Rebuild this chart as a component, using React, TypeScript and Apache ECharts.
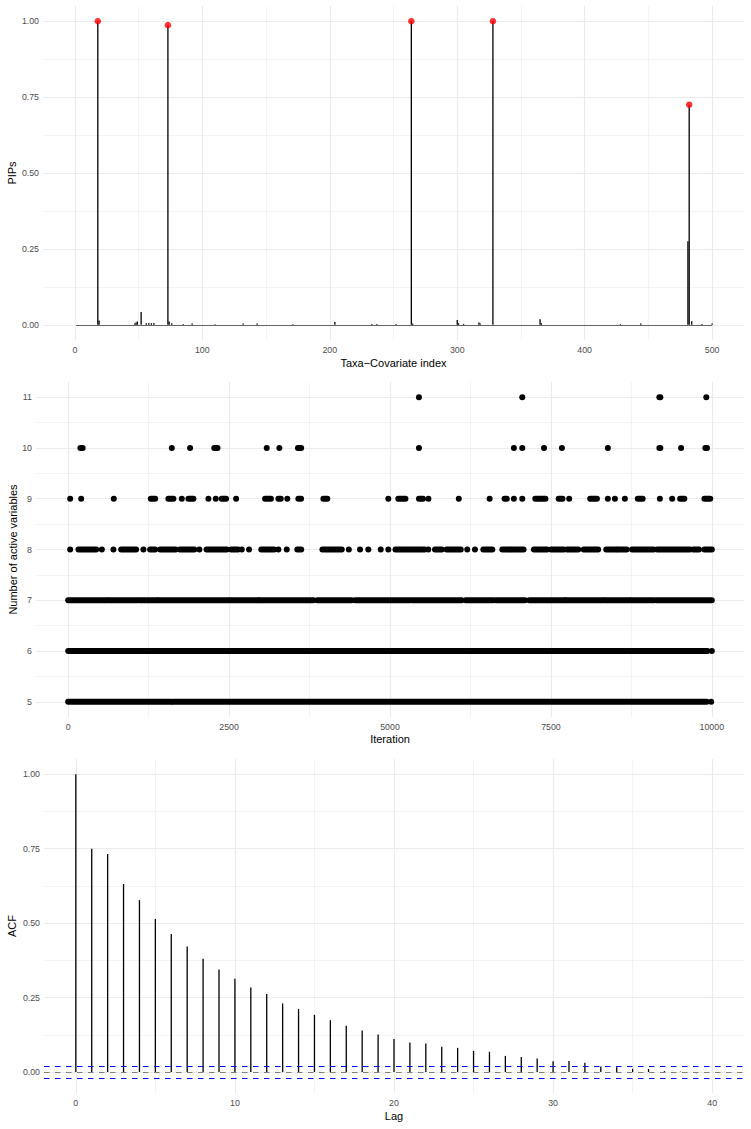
import React, { useEffect, useRef } from "react";
import * as echarts from "echarts";

// ---- Posterior inclusion probabilities: [taxa-covariate index, PIP] ----
const PIP_COUNT = 500;
const PIP_VALUES: [number, number][] = [
  [18, 1.0], [19, 0.014], [47, 0.004], [48, 0.008], [49, 0.011], [52, 0.042],
  [56, 0.005], [58, 0.006], [60, 0.005], [62, 0.006], [73, 0.987], [74, 0.011],
  [76, 0.005], [85, 0.003], [92, 0.004], [110, 0.002], [132, 0.004], [143, 0.004],
  [171, 0.002], [204, 0.009], [233, 0.003], [237, 0.003], [252, 0.003], [264, 1.0],
  [265, 0.004], [300, 0.016], [301, 0.005], [305, 0.003], [317, 0.008], [318, 0.004],
  [328, 1.0], [365, 0.018], [366, 0.005], [428, 0.002], [444, 0.004], [481, 0.275],
  [482, 0.725], [484, 0.012], [492, 0.003], [500, 0.004],
];
const PIP_THRESHOLD = 0.5;
const PIP_X_TICKS = [0, 100, 200, 300, 400, 500];
const PIP_X_MINOR = [50, 150, 250, 350, 450];
const PROB_TICKS = [0, 0.25, 0.5, 0.75, 1];
const PROB_MINOR = [0.125, 0.375, 0.625, 0.875];

// ---- Model size trace: runs of consecutive iterations [from, to] per size ----
const SIZE_5: number[][] = [[0, 1600], [1625, 9920], [9990, 9990]];
const SIZE_6: number[][] = [[0, 1600], [1625, 9930], [10000, 10000]];
const SIZE_7: number[][] = [
  [0, 600], [626, 1076], [1107, 1377], [1402, 2489], [2516, 2955], [2971, 3810],
  [3871, 4405], [4457, 5311], [5346, 6113], [6175, 6604], [6646, 7096], [7163, 7717],
  [7733, 8312], [8338, 8716], [8742, 9099], [9141, 10000],
];
const SIZE_8: number[][] = [
  [31, 31], [160, 435], [523, 523], [703, 703], [823, 1056], [1169, 1169], [1273, 1351],
  [1429, 1670], [1735, 1960], [2039, 2039], [2150, 2464], [2530, 2640], [2697, 2697],
  [2810, 2810], [3000, 3200], [3266, 3266], [3396, 3396], [3560, 3620], [3950, 4250],
  [4360, 4360], [4534, 4534], [4663, 4663], [4856, 4856], [4974, 4974], [5085, 5330],
  [5360, 5540], [5595, 5595], [5699, 5803], [5880, 6100], [6200, 6200], [6320, 6320],
  [6450, 6590], [6745, 6863], [6890, 7075], [7236, 7440], [7500, 7700], [7750, 7925],
  [8010, 8234], [8360, 8520], [8545, 8675], [8760, 9095], [9150, 9658], [9710, 9800],
  [9885, 10000],
];
const SIZE_9: number[][] = [
  [31, 31], [202, 202], [709, 709], [1284, 1351], [1557, 1635], [1765, 1765], [1868, 1946],
  [2179, 2179], [2293, 2293], [2386, 2453], [2609, 2609], [3059, 3150], [3266, 3303],
  [3405, 3405], [3576, 3618], [3965, 4026], [4974, 4974], [5129, 5240], [5450, 5512],
  [5597, 5597], [6069, 6069], [6548, 6548], [6780, 6815], [6925, 6925], [7055, 7055],
  [7257, 7415], [7620, 7680], [7784, 7784], [8110, 8215], [8385, 8385], [8494, 8494],
  [8649, 8649], [8850, 8925], [9193, 9193], [9384, 9384], [9508, 9573], [9885, 9975],
];
const SIZE_10: number[][] = [
  [190, 225], [1610, 1610], [1894, 1894], [2270, 2320], [3085, 3085], [3281, 3281],
  [3570, 3620], [5450, 5450], [6925, 6925], [7055, 7055], [7393, 7393], [7671, 7671],
  [8385, 8385], [9185, 9200], [9523, 9523], [9900, 9925],
];
const SIZE_11: number[][] = [[5450, 5450], [7055, 7055], [9185, 9200], [9914, 9914]];
const SIZE_RUNS: [number, number[][]][] = [
  [5, SIZE_5], [6, SIZE_6], [7, SIZE_7], [8, SIZE_8], [9, SIZE_9], [10, SIZE_10], [11, SIZE_11],
];
const ITER_TICKS = [0, 2500, 5000, 7500, 10000];
const ITER_MINOR = [1250, 3750, 6250, 8750];
const SIZE_TICKS = [5, 6, 7, 8, 9, 10, 11];
const SIZE_MINOR = [5.5, 6.5, 7.5, 8.5, 9.5, 10.5];

// ---- Autocorrelation of the model size trace, lags 0..40 ----
const ACF_VALUES = [
  1.0, 0.75, 0.732, 0.631, 0.577, 0.514, 0.463, 0.421, 0.38, 0.344, 0.313, 0.284, 0.262,
  0.23, 0.212, 0.192, 0.174, 0.155, 0.139, 0.126, 0.111, 0.099, 0.096, 0.085, 0.081,
  0.071, 0.068, 0.054, 0.05, 0.045, 0.036, 0.037, 0.031, 0.018, 0.016, 0.011, 0.01,
  0.003, 0.001, -0.004, 0.0,
];
const ACF_BOUND = 0.0196;
const LAG_TICKS = [0, 10, 20, 30, 40];
const LAG_MINOR = [5, 15, 25, 35];

const FONT = '"Liberation Sans", Arial, Helvetica, sans-serif';
const TICK_COLOR = "#4d4d4d";
const MAJOR_GRID = { color: "#ebebeb", width: 1.1 };
const MINOR_GRID = { color: "#ededed", width: 0.6 };

type Fmt = (v: number) => string;

function axisPair(
  dim: "x" | "y",
  gridIndex: number,
  min: number,
  max: number,
  ticks: number[],
  minor: number[],
  fmt: Fmt,
  name: string,
  nameGap: number
) {
  const major: any = {
    type: "value",
    gridIndex,
    min,
    max,
    position: dim === "x" ? "bottom" : "left",
    axisLine: { show: false },
    axisTick: { show: false, customValues: ticks },
    axisLabel: {
      customValues: ticks,
      formatter: (v: number) => fmt(v),
      color: TICK_COLOR,
      fontSize: 8.8,
      fontFamily: FONT,
      margin: dim === "x" ? 5 : 4,
    },
    splitLine: { show: true, lineStyle: MAJOR_GRID },
    name,
    nameLocation: "middle",
    nameGap,
    nameMoveOverlap: false,
    nameRotate: dim === "y" ? 90 : 0,
    nameTextStyle: { fontSize: 11, color: "#000", fontFamily: FONT },
  };
  const minorAxis: any = {
    type: "value",
    gridIndex,
    min,
    max,
    position: dim === "x" ? "top" : "right",
    axisLine: { show: false },
    axisTick: { show: false, customValues: minor },
    axisLabel: { show: false, customValues: minor },
    splitLine: { show: true, lineStyle: MINOR_GRID },
  };
  return [major, minorAxis];
}

const two: Fmt = (v) => v.toFixed(2);
const plain: Fmt = (v) => String(v);

export default function App() {
  const ref = useRef<HTMLDivElement>(null);

  useEffect(() => {
    if (!ref.current) return;
    const chart = echarts.init(ref.current, undefined, { renderer: "svg" });

    const pipTop = PIP_VALUES.filter((d) => d[1] > PIP_THRESHOLD);
    const runData: number[][] = [];
    SIZE_RUNS.forEach(([size, runs]) => {
      runs.forEach((r) => runData.push([r[0], r[1], size]));
    });
    const acfData = ACF_VALUES.map((v, lag) => [lag, v]);

    const xAxes = [
      ...axisPair("x", 0, -25, 525, PIP_X_TICKS, PIP_X_MINOR, plain, "Taxa\u2212Covariate index", 17),
      ...axisPair("x", 1, -500, 10500, ITER_TICKS, ITER_MINOR, plain, "Iteration", 16.5),
      ...axisPair("x", 2, -2, 42, LAG_TICKS, LAG_MINOR, plain, "Lag", 17),
    ];
    const yAxes = [
      ...axisPair("y", 0, -0.05, 1.05, PROB_TICKS, PROB_MINOR, two, "PIPs", 25.5),
      ...axisPair("y", 1, 4.7, 11.3, SIZE_TICKS, SIZE_MINOR, plain, "Number of active variables", 18),
      ...axisPair("y", 2, -0.0706, 1.051, PROB_TICKS, PROB_MINOR, two, "ACF", 26.5),
    ];

    const dotR = 3;

    chart.setOption({
      animation: false,
      textStyle: { fontFamily: FONT },
      grid: [
        { left: 43, top: 6, width: 701, height: 334, outerBoundsMode: "none" },
        { left: 36, top: 382, width: 708, height: 335, outerBoundsMode: "none" },
        { left: 44, top: 759, width: 700, height: 334, outerBoundsMode: "none" },
      ],
      xAxis: xAxes,
      yAxis: yAxes,
      series: [
        {
          type: "bar",
          xAxisIndex: 0,
          yAxisIndex: 0,
          data: PIP_VALUES,
          barWidth: 1.3,
          itemStyle: { color: "#000" },
          silent: true,
          markLine: {
            silent: true,
            symbol: ["none", "none"],
            label: { show: false },
            lineStyle: { color: "#555", width: 0.9, type: "solid" },
            data: [[{ coord: [1, 0] }, { coord: [PIP_COUNT, 0] }]],
          },
        },
        {
          type: "scatter",
          xAxisIndex: 0,
          yAxisIndex: 0,
          data: pipTop,
          symbolSize: 6.5,
          itemStyle: { color: "#ff0000" },
          silent: true,
        },
        {
          type: "custom",
          xAxisIndex: 2,
          yAxisIndex: 2,
          data: runData,
          encode: { x: [0, 1], y: 2 },
          silent: true,
          renderItem: (_params: any, api: any) => {
            const a = api.coord([api.value(0), api.value(2)]);
            const b = api.coord([api.value(1), api.value(2)]);
            return {
              type: "rect",
              shape: {
                x: a[0] - dotR,
                y: a[1] - dotR,
                width: b[0] - a[0] + dotR * 2,
                height: dotR * 2,
                r: dotR,
              },
              style: { fill: "#000" },
            };
          },
        },
        {
          type: "bar",
          xAxisIndex: 4,
          yAxisIndex: 4,
          data: acfData,
          barWidth: 1.3,
          itemStyle: { color: "#000" },
          silent: true,
          markLine: {
            silent: true,
            symbol: ["none", "none"],
            label: { show: false },
            data: [
              { yAxis: 0, lineStyle: { color: "#808080", width: 1.1, type: [5.5, 5.5] } },
              { yAxis: ACF_BOUND, lineStyle: { color: "#0000ff", width: 1.1, type: [5.5, 5.5] } },
              { yAxis: -ACF_BOUND, lineStyle: { color: "#0000ff", width: 1.1, type: [5.5, 5.5] } },
            ],
          },
        },
      ],
    });

    return () => chart.dispose();
  }, []);

  return (
    <div
      ref={ref}
      style={{ position: "absolute", left: 0, top: 0, width: 751, height: 1129, background: "#fff" }}
    />
  );
}
